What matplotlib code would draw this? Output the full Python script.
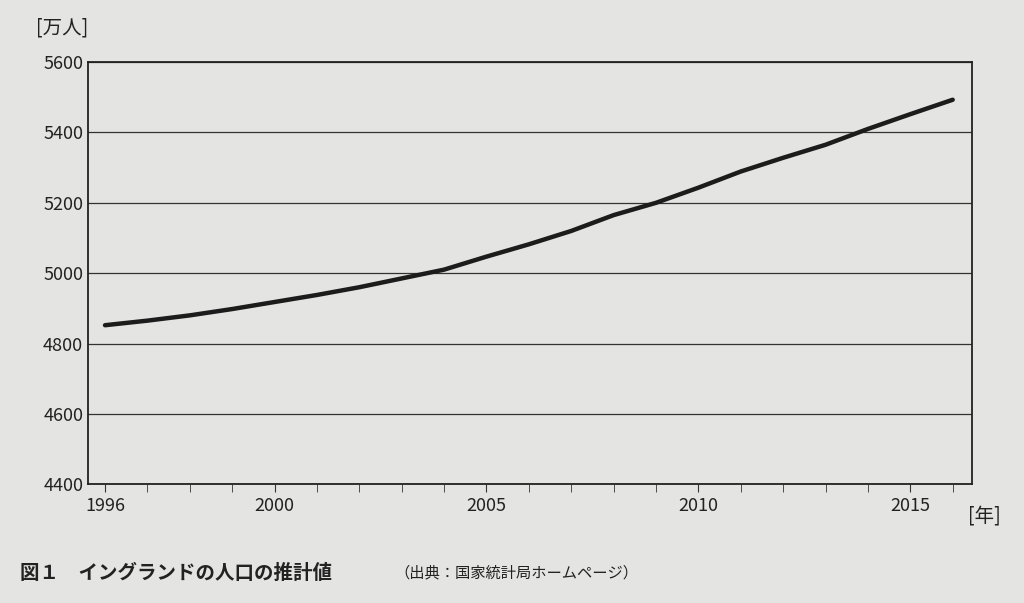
import matplotlib.pyplot as plt

plt.rcParams['font.family'] = ['Noto Sans CJK JP', 'DejaVu Sans']

years = list(range(1996, 2017))
population = [4852, 4865, 4880, 4898, 4918, 4938, 4960, 4985, 5010, 5047,
              5082, 5120, 5165, 5200, 5243, 5289, 5328, 5365, 5410, 5452, 5493]
yticks = [4400, 4600, 4800, 5000, 5200, 5400, 5600]
xlabels = [1996, 2000, 2005, 2010, 2015]

bg = '#e4e5e3'
fig = plt.figure(figsize=(10.24, 6.03), dpi=100, facecolor=bg)
ax = fig.add_axes([0.086, 0.197, 0.863, 0.7])
ax.set_facecolor(bg)

ax.plot(years, population, color='#1c1c1c', linewidth=3.2, solid_capstyle='round')
ax.set_xlim(1995.6, 2016.45)
ax.set_ylim(4400, 5600)
ax.set_yticks(yticks)
ax.yaxis.grid(True, color='#333333', linewidth=0.9)
ax.set_xticks(xlabels)
ax.set_xticks(years, minor=True)
ax.tick_params(axis='x', which='both', direction='out', length=6, color='#333333',
               labelsize=13, labelcolor='#222222')
ax.tick_params(axis='y', length=0, labelsize=13, labelcolor='#222222')
for s in ax.spines.values():
    s.set_color('#222222')
    s.set_linewidth(1.3)

fig.text(0.035, 0.945, '[万人]', fontsize=14, color='#222222')
fig.text(0.945, 0.135, '[年]', fontsize=14, color='#222222')
fig.text(0.02, 0.04, '図１　イングランドの人口の推計値', fontsize=14, color='#222222',
         fontweight='bold')
fig.text(0.385, 0.042, '（出典：国家統計局ホームページ）', fontsize=11, color='#222222')

fig.savefig('out.png', dpi=100, facecolor=bg)
